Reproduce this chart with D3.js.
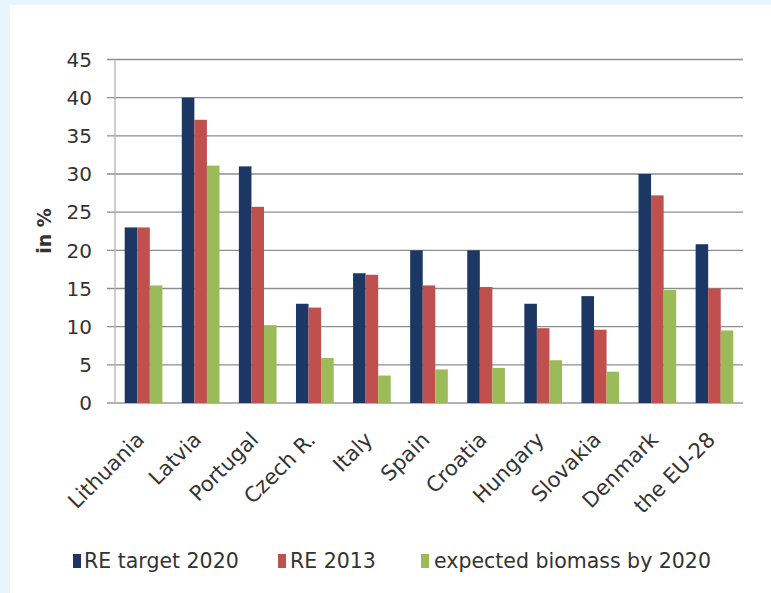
<!DOCTYPE html>
<html>
<head>
<meta charset="utf-8">
<script src="https://cdn.jsdelivr.net/npm/d3@7/dist/d3.min.js"></script>
<style>
  html, body { margin: 0; padding: 0; background: #e9f5fc; }
  svg { display: block; }
  text { font-family: "DejaVu Sans", sans-serif; fill: #333; }
</style>
</head>
<body>
<script>
const categories = ["Lithuania", "Latvia", "Portugal", "Czech R.", "Italy", "Spain", "Croatia", "Hungary", "Slovakia", "Denmark", "the EU-28"];
const seriesNames = ["RE target 2020", "RE 2013", "expected biomass by 2020"];
const reTarget2020 = [23, 40, 31, 13, 17, 20, 20, 13, 14, 30, 20.8];
const re2013 = [23, 37.1, 25.7, 12.5, 16.8, 15.4, 15.2, 9.8, 9.6, 27.2, 15.0];
const biomass2020 = [15.4, 31.1, 10.2, 5.9, 3.6, 4.4, 4.6, 5.6, 4.1, 14.8, 9.5];
const yTicks = [0, 5, 10, 15, 20, 25, 30, 35, 40, 45];
const colors = ["#1c3763", "#c0504d", "#9bbb59"];

const W = 771, H = 593;
const svg = d3.select("body").append("svg").attr("width", W).attr("height", H);

// white panel
svg.append("rect").attr("x", 10).attr("y", 5).attr("width", W - 10).attr("height", H - 5).attr("fill", "#ffffff");

const plot = { left: 115, right: 743, top: 59.5, bottom: 403 };

const x = d3.scaleBand().domain(categories).range([plot.left, plot.right]).paddingInner(0.34).paddingOuter(0.17);
const xs = d3.scaleBand().domain(seriesNames).range([0, x.bandwidth()]);
const y = d3.scaleLinear().domain([0, 45]).range([plot.bottom, plot.top]);

// gridlines
svg.append("g").selectAll("line").data(yTicks).join("line")
  .attr("x1", plot.left - 8).attr("x2", plot.right)
  .attr("y1", d => y(d)).attr("y2", d => y(d))
  .attr("stroke", d => d === 0 ? "#9a9a9a" : "#8e8e8e").attr("stroke-width", 1.3);

// vertical axis line
svg.append("line").attr("x1", plot.left).attr("x2", plot.left)
  .attr("y1", plot.top).attr("y2", plot.bottom)
  .attr("stroke", "#b5b5b5").attr("stroke-width", 1.3);

// tick labels
svg.append("g").selectAll("text").data(yTicks).join("text")
  .attr("x", 92).attr("y", d => y(d)).attr("dy", "0.36em")
  .attr("text-anchor", "end").attr("font-size", 20).text(d => d);

// y title
svg.append("text").attr("transform", `translate(51,231) rotate(-90)`)
  .attr("text-anchor", "middle").attr("font-size", 19).attr("font-weight", "bold").text("in %");

// bars
const seriesData = [reTarget2020, re2013, biomass2020];
seriesData.forEach((vals, si) => {
  svg.append("g").selectAll("rect").data(vals).join("rect")
    .attr("x", (d, i) => x(categories[i]) + xs(seriesNames[si]))
    .attr("width", xs.bandwidth())
    .attr("y", d => y(d))
    .attr("height", d => y(0) - y(d))
    .attr("fill", colors[si]);
});

// x labels
svg.append("g").selectAll("text").data(categories).join("text")
  .attr("transform", d => `translate(${x(d) + x.bandwidth() / 2 + 2},441) rotate(-45)`)
  .attr("text-anchor", "end").attr("font-size", 21).text(d => d);

// legend
const legendItems = [
  { name: seriesNames[0], sx: 73, tx: 84 },
  { name: seriesNames[1], sx: 278, tx: 290 },
  { name: seriesNames[2], sx: 421, tx: 434 }
];
const lg = svg.append("g");
legendItems.forEach((it, i) => {
  lg.append("rect").attr("x", it.sx).attr("y", 554).attr("width", 8).attr("height", 14).attr("fill", colors[i]);
  lg.append("text").attr("x", it.tx).attr("y", 568).attr("font-size", 20.5).text(it.name);
});
</script>
</body>
</html>
